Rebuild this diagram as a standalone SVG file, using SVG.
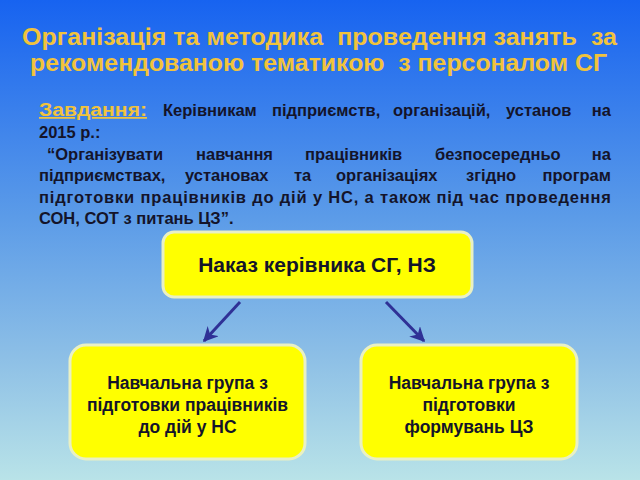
<svg xmlns="http://www.w3.org/2000/svg" width="640" height="480" viewBox="0 0 640 480">
<defs>
<linearGradient id="bg" x1="0" y1="0" x2="0" y2="1">
<stop offset="0" stop-color="#1763f0"/>
<stop offset="0.45" stop-color="#5b9be8"/>
<stop offset="0.75" stop-color="#8ec0e6"/>
<stop offset="1" stop-color="#b9e3e8"/>
</linearGradient>
<marker id="ah" viewBox="0 0 10 10" refX="9" refY="5" markerWidth="5" markerHeight="5" orient="auto" markerUnits="strokeWidth">
<path d="M0,0 L10,5 L0,10 L3,5 z" fill="#2f3196"/>
</marker>
</defs>
<style>
.title{font-family:"Liberation Sans",Arial,sans-serif;font-weight:bold;font-size:23px;fill:#f1c33c;white-space:pre}
.body{font-family:"Liberation Sans",Arial,sans-serif;font-weight:bold;font-size:16.5px;fill:#14142a}
.lbl{font-family:"Liberation Sans",Arial,sans-serif;font-weight:bold;font-size:17.5px;fill:#14142a;text-anchor:middle}
.box{fill:#ffff00;stroke:#e9f0c4;stroke-width:3}
.conn{stroke:#2f3196;stroke-width:3;fill:none;marker-end:url(#ah)}
</style>
<rect width="640" height="480" fill="url(#bg)"/>
<text class="title" x="22" y="45" textLength="595" lengthAdjust="spacingAndGlyphs">Організація та методика  проведення занять  за</text>
<text class="title" x="30" y="71" textLength="577" lengthAdjust="spacingAndGlyphs">рекомендованою тематикою  з персоналом СГ</text>
<g class="body">
<text x="39" y="116" text-decoration="underline" textLength="108" lengthAdjust="spacingAndGlyphs" style="fill:#f1c33c;font-size:17.5px">Завдання:</text>
<text x="163" y="116">Керівникам</text>
<text x="272" y="116">підприємств,</text>
<text x="393" y="116">організацій,</text>
<text x="506" y="116">установ</text>
<text x="611" y="116" text-anchor="end">на</text>
<text x="39" y="138">2015 р.:</text>
<text x="47" y="159.5">“Організувати</text>
<text x="196" y="159.5">навчання</text>
<text x="305" y="159.5">працівників</text>
<text x="435" y="159.5">безпосередньо</text>
<text x="611" y="159.5" text-anchor="end">на</text>
<text x="39" y="181">підприємствах,</text>
<text x="185" y="181">установах</text>
<text x="294" y="181">та</text>
<text x="336" y="181">організаціях</text>
<text x="466" y="181">згідно</text>
<text x="611" y="181" text-anchor="end">програм</text>
<text x="39" y="202.5" textLength="572" lengthAdjust="spacing">підготовки працівників до дій у НС, а також під час проведення</text>
<text x="39" y="224">СОН, СОТ з питань ЦЗ”.</text>
</g>
<g id="connectors">
<line class="conn" x1="240" y1="302" x2="204" y2="341"/>
<line class="conn" x1="386" y1="302" x2="424" y2="341"/>
</g>
<g id="node-order">
<rect class="box" x="163" y="232" width="309" height="65" rx="11"/>
<text class="lbl" x="317" y="272" style="font-size:21px">Наказ керівника СГ, НЗ</text>
</g>
<g id="node-group-ns">
<rect class="box" x="70" y="345" width="235" height="114" rx="16"/>
<text class="lbl" x="187.5" y="389">Навчальна група з</text>
<text class="lbl" x="187.5" y="411">підготовки працівників</text>
<text class="lbl" x="187.5" y="433">до дій у НС</text>
</g>
<g id="node-group-cz">
<rect class="box" x="361" y="345" width="216" height="114" rx="16"/>
<text class="lbl" x="469" y="389">Навчальна група з</text>
<text class="lbl" x="469" y="411">підготовки</text>
<text class="lbl" x="469" y="433">формувань ЦЗ</text>
</g>
</svg>
